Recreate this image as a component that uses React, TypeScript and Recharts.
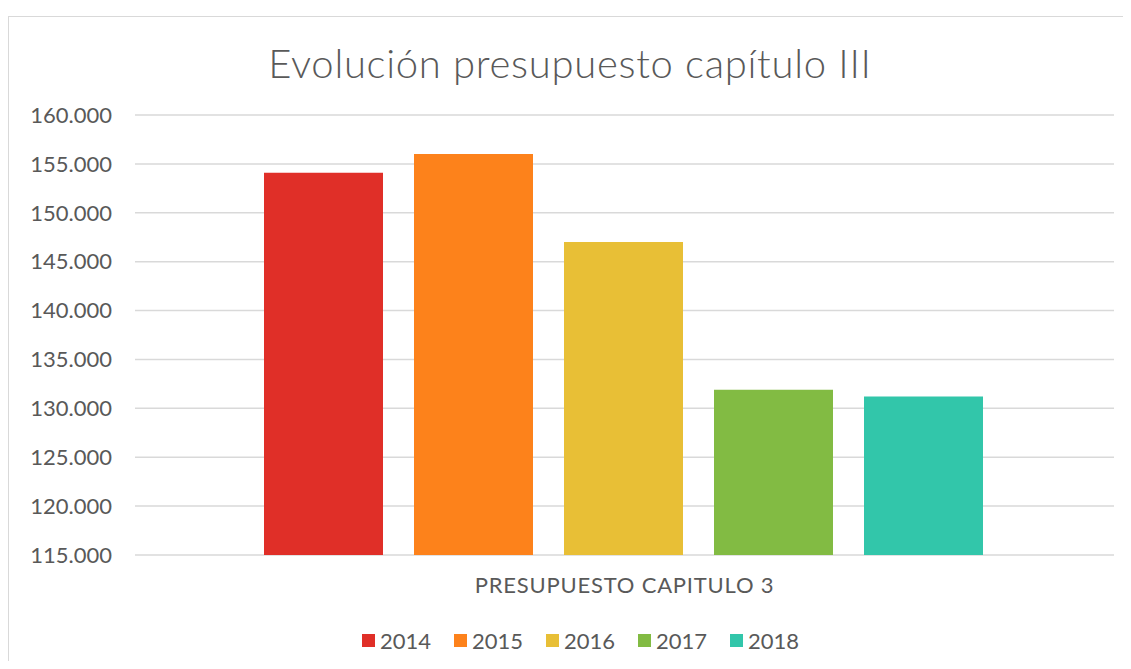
import { BarChart, Bar, XAxis, YAxis, CartesianGrid, Legend } from "recharts";

const categories = ["PRESUPUESTO CAPITULO 3"];
const years = ["2014", "2015", "2016", "2017", "2018"];
const values = [154100, 156000, 147000, 131900, 131200];
const colors = ["#E02F28", "#FD821B", "#E8BF36", "#82BB43", "#32C6AA"];
const yTicks = [115000, 120000, 125000, 130000, 135000, 140000, 145000, 150000, 155000, 160000];

const data = categories.map((name) => {
  const row: Record<string, string | number> = { name };
  years.forEach((y, i) => {
    row[y] = values[i];
  });
  return row;
});

const FONT = "Lato, 'Open Sans', sans-serif";
const TEXT = "#595959";

const fmt = (v: number) => v.toLocaleString("de-DE");

function LegendContent() {
  return (
    <div
      style={{
        height: 54,
        display: "flex",
        justifyContent: "center",
        alignItems: "flex-start",
        paddingTop: 13,
        paddingLeft: 39,
        boxSizing: "border-box",
        fontFamily: FONT,
        fontSize: 22,
        color: TEXT,
      }}
    >
      {years.map((y, i) => (
        <div
          key={y}
          style={{ display: "flex", alignItems: "center", height: 24, width: i < years.length - 1 ? 92 : 70 }}
        >
          <span style={{ width: 13, height: 13, background: colors[i], marginRight: 5, display: "inline-block" }} />
          <span>{y}</span>
        </div>
      ))}
    </div>
  );
}

export default function App() {
  return (
    <div
      style={{
        position: "relative",
        marginTop: 8,
        width: 1122,
        height: 644,
        overflow: "hidden",
        borderTop: "1px solid #d9d9d9",
        borderLeft: "1px solid #d9d9d9",
        background: "#fff",
      }}
    >
      <div
        style={{
          position: "absolute",
          top: 23,
          left: 0,
          width: 1122,
          textAlign: "center",
          fontFamily: FONT,
          fontSize: 40,
          fontWeight: 300,
          letterSpacing: 0.7,
          color: TEXT,
          lineHeight: "46px",
        }}
      >
        Evolución presupuesto capítulo III
      </div>
      <BarChart
        width={1122}
        height={652}
        data={data}
        margin={{ top: 98, right: 17, left: 0, bottom: 0 }}
        barCategoryGap={129}
        barGap={31}
      >
        <CartesianGrid vertical={false} stroke="#d9d9d9" strokeWidth={1.5} />
        <XAxis
          dataKey="name"
          axisLine={false}
          tickLine={false}
          tickMargin={16}
          height={60}
          tick={{ fontFamily: FONT, fontSize: 22, fill: TEXT, letterSpacing: 0.8 }}
        />
        <YAxis
          width={126}
          domain={[115000, 160000]}
          ticks={yTicks}
          axisLine={false}
          tickLine={false}
          tickMargin={17}
          tickFormatter={fmt}
          tick={{ fontFamily: FONT, fontSize: 22, fill: TEXT }}
        />
        <Legend verticalAlign="bottom" content={() => <LegendContent />} />
        {years.map((y, i) => (
          <Bar key={y} dataKey={y} fill={colors[i]} isAnimationActive={false} />
        ))}
      </BarChart>
    </div>
  );
}
